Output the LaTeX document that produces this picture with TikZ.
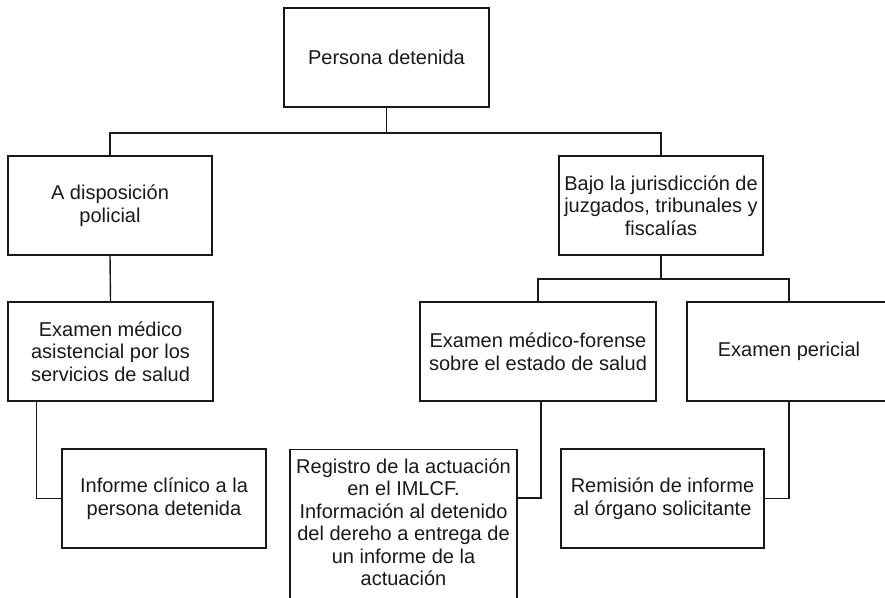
\documentclass[tikz,border=0pt]{standalone}
\usepackage{fontspec}
\setmainfont{Liberation Sans}
\tikzset{
  box/.style={draw=black!90, line width=1.4pt, inner sep=0pt, align=center,
    font=\fontsize{20}{22.5}\selectfont, text=black!90},
  conn/.style={draw=black!90, line width=1.4pt},
}
\begin{document}
\begin{tikzpicture}[x=1pt,y=-1pt]
\useasboundingbox (0,0) rectangle (885,597);
\clip (0,0) rectangle (885,597);
\node[box, minimum width=205, minimum height=99] (pd) at (386.5,57.5) {Persona detenida};
\node[box, minimum width=204, minimum height=99] (disp) at (110,205.5) {A disposición\\policial};
\node[box, minimum width=204, minimum height=99] (bajo) at (661,205.5) {Bajo la jurisdicción de\\juzgados, tribunales y\\fiscalías};
\node[box, minimum width=205, minimum height=99] (ema) at (110.5,351.5) {Examen médico\\asistencial por los\\servicios de salud};
\node[box, minimum width=236, minimum height=99] (fore) at (538,351.5) {Examen médico-forense\\sobre el estado de salud};
\node[box, minimum width=204, minimum height=99] (per) at (789,351.5) {Examen pericial};
\node[box, minimum width=204, minimum height=99] (inf) at (164,498.5) {Informe clínico a la\\persona detenida};
\node[box, minimum width=203, minimum height=99] (rem) at (662.5,498.5) {Remisión de informe\\al órgano solicitante};
\node[box, minimum width=227, minimum height=170, anchor=north] (reg) at (403.5,449) {};
\node[box, draw=none, anchor=north] (regtxt) at ([yshift=-9pt]reg.north) {Registro de la actuación\\en el IMLCF.\\Información al detenido\\del dereho a entrega de\\un informe de la\\actuación};
\coordinate (j1) at (386.5,133);
\coordinate (j2) at (661,279);
% connectors
\draw[conn] (pd.south) -- (j1);
\draw[conn] (j1) -| (disp.north);
\draw[conn] (j1) -| (bajo.north);
\draw[conn] (disp.south) -- (ema.north);
\draw[conn] (bajo.south) -- (j2);
\draw[conn] (j2) -| (fore.north);
\draw[conn] (j2) -| (per.north);
\draw[conn] ([xshift=29pt]ema.south west) |- (inf.west);
\draw[conn] ([xshift=3pt]fore.south) |- ([yshift=-49pt]reg.north east);
\draw[conn] (per.south) |- (rem.east);
\end{tikzpicture}
\end{document}
